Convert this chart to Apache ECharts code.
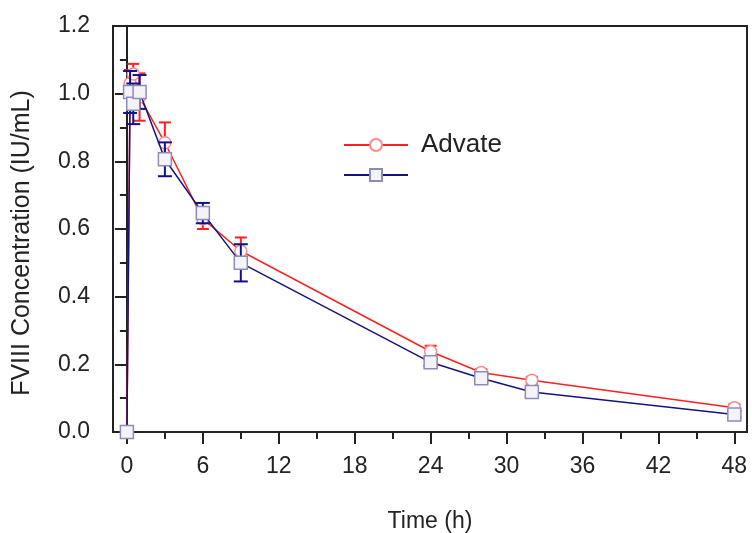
<!DOCTYPE html>
<html>
<head>
<meta charset="utf-8">
<script src="https://cdn.jsdelivr.net/npm/echarts@6/dist/echarts.min.js"></script>
<style>
html,body{margin:0;padding:0;background:#fff;}
#chart{width:752px;height:533px;}
</style>
</head>
<body>
<div id="chart"></div>
<script>
// Data
const times = [0, 0.25, 0.5, 1, 3, 6, 9, 24, 28, 32, 48];
const advateMean = [0, 1.03, 1.058, 0.99, 0.855, 0.63, 0.535, 0.238, 0.176, 0.153, 0.072];
const advateErr  = [0, 0.04, 0.03, 0.07, 0.06, 0.03, 0.04, 0.017, 0.01, 0.01, 0.01];
const otherMean  = [0, 1.005, 0.97, 1.005, 0.806, 0.647, 0.50, 0.206, 0.159, 0.118, 0.052];
const otherErr   = [0, 0.062, 0.06, 0.05, 0.05, 0.03, 0.055, 0.01, 0.01, 0.01, 0.01];
const xMajorTicks = [0, 6, 12, 18, 24, 30, 36, 42, 48];
const xMinorTicks = [3, 9, 15, 21, 27, 33, 39, 45];
const seriesNames = ['Advate', ' '];

const FONT = '"Liberation Sans", Arial, sans-serif';

function pairs(xs, ys) { return xs.map((x, i) => [x, ys[i]]); }
function triples(xs, ys, es) { return xs.map((x, i) => [x, ys[i], es[i]]); }

function errRender(color, hw) {
  return function (params, api) {
    const x = api.value(0), y = api.value(1), e = api.value(2);
    if (!e) return null;
    const top = api.coord([x, y + e]);
    const bot = api.coord([x, y - e]);
    const st = { stroke: color, lineWidth: 2 };
    return {
      type: 'group',
      children: [
        { type: 'line', shape: { x1: top[0], y1: top[1], x2: bot[0], y2: bot[1] }, style: st },
        { type: 'line', shape: { x1: top[0] - hw, y1: top[1], x2: top[0] + hw, y2: top[1] }, style: st },
        { type: 'line', shape: { x1: bot[0] - hw, y1: bot[1], x2: bot[0] + hw, y2: bot[1] }, style: st }
      ]
    };
  };
}

const chart = echarts.init(document.getElementById('chart'), null, { renderer: 'canvas' });
const axisColor = '#222';
chart.setOption({
  animation: false,
  backgroundColor: '#fff',
  grid: {
    left: 113, right: 5, top: 26, bottom: 101,
    outerBoundsMode: 'none', containLabel: false,
    show: true, borderColor: axisColor, borderWidth: 2, backgroundColor: 'transparent'
  },
  legend: {
    orient: 'vertical',
    left: 338,
    top: 127,
    itemWidth: 64,
    itemHeight: 15,
    itemGap: 4,
    data: seriesNames,
    textStyle: { fontFamily: FONT, fontSize: 26, color: '#222', padding: [0, 0, 0, 8] }
  },
  xAxis: [
    {
      type: 'value', min: -1.1, max: 49,
      name: 'Time (h)', nameLocation: 'middle', nameGap: 78,
      nameTextStyle: { fontFamily: FONT, fontSize: 23, color: '#222' },
      axisLine: { lineStyle: { color: axisColor, width: 2 } },
      axisTick: { show: true, inside: false, length: 12, lineStyle: { color: axisColor, width: 2 }, customValues: xMajorTicks },
      axisLabel: { fontFamily: FONT, fontSize: 23, color: '#222', margin: 23, customValues: xMajorTicks },
      splitLine: { show: false }
    },
    {
      type: 'value', min: -1.1, max: 49, position: 'bottom',
      axisLine: { show: false },
      axisTick: { show: true, inside: false, length: 7, lineStyle: { color: axisColor, width: 2 }, customValues: xMinorTicks },
      axisLabel: { show: false },
      splitLine: { show: false }
    }
  ],
  yAxis: {
    type: 'value', min: 0, max: 1.2, interval: 0.2,
    name: 'FVIII Concentration (IU/mL)', nameLocation: 'middle', nameGap: 78,
    nameTextStyle: { fontFamily: FONT, fontSize: 25, color: '#222', padding: [0, 28, 0, 0] },
    axisLine: { lineStyle: { color: axisColor, width: 2 } },
    axisTick: { length: 12, lineStyle: { color: axisColor, width: 2 } },
    minorTick: { show: true, splitNumber: 2, length: 7, lineStyle: { color: axisColor, width: 2 } },
    axisLabel: { fontFamily: FONT, fontSize: 23, color: '#222', margin: 23, formatter: v => v.toFixed(1) },
    splitLine: { show: false }
  },
  series: [
    {
      type: 'custom', name: 'advErr', xAxisIndex: 0, renderItem: errRender('#ff2020', 6),
      data: triples(times, advateMean, advateErr), z: 2, silent: true
    },
    {
      type: 'line', name: seriesNames[0], xAxisIndex: 0, data: pairs(times, advateMean),
      symbol: 'circle', symbolSize: 12,
      lineStyle: { color: '#ff2020', width: 1.5 },
      itemStyle: { color: '#ffffff', borderColor: '#ff8a8a', borderWidth: 1.5 },
      z: 3
    },
    {
      type: 'custom', name: 'othErr', xAxisIndex: 0, renderItem: errRender('#101090', 7),
      data: triples(times, otherMean, otherErr), z: 4, silent: true
    },
    {
      type: 'line', name: seriesNames[1], xAxisIndex: 0, data: pairs(times, otherMean),
      symbol: 'rect', symbolSize: 13,
      lineStyle: { color: '#141480', width: 1.5 },
      itemStyle: { color: '#f4f4f8', borderColor: '#8c8cb8', borderWidth: 1.5 },
      z: 5
    }
  ]
});
</script>
</body>
</html>
